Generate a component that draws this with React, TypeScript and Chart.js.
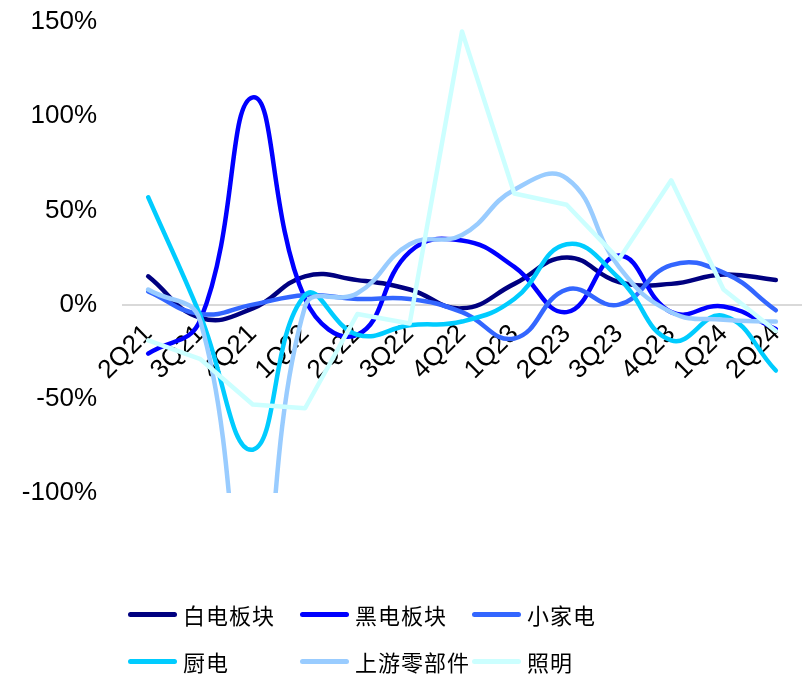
import React, { useEffect, useRef } from "react";
import { Chart, registerables } from "chart.js";

Chart.register(...registerables);

const categories = ["2Q21", "3Q21", "4Q21", "1Q22", "2Q22", "3Q22", "4Q22", "1Q23", "2Q23", "3Q23", "4Q23", "1Q24", "2Q24"];
const seriesNames = ["白电板块", "黑电板块", "小家电", "厨电", "上游零部件", "照明"];
const seriesColors = ["#000080", "#0000FF", "#3366FF", "#00CCFF", "#99CCFF", "#CCFFFF"];
const baiDian = [15, -7, -2, 15, 13, 8, -2, 11, 25, 12, 11, 16, 13];
const heiDian = [-26, -8, 110, 3, -16, 28, 34, 20, -4, 26, -4, -1, -13];
const xiaoJiaDian = [7, -5, 0, 5, 3, 3, -4, -18, 8, 0, 21, 17, -3];
const chuDian = [57, -6, -77, 5, -16, -11, -9, 3, 32, 14, -19, -6, -35];
const shangYou = [8, -9, -185, -1, 6, 32, 37, 61, 67, 20, -4, -8, -9];
const zhaoMing = [-19, -29, -53, -55, -5, -10, 145, 59, 53, 24, 66, 8, -14];
const seriesData = [baiDian, heiDian, xiaoJiaDian, chuDian, shangYou, zhaoMing];
const smoothFlags = [true, true, true, true, true, false];
const yMin = -100;
const yMax = 150;
const yStep = 50;

export default function App() {
  const canvasRef = useRef<HTMLCanvasElement | null>(null);

  useEffect(() => {
    const canvas = canvasRef.current;
    if (!canvas) return;
    const chart = new Chart(canvas, {
      type: "line",
      data: {
        labels: categories,
        datasets: seriesData.map((d, i) => ({
          label: seriesNames[i],
          data: d,
          borderColor: seriesColors[i],
          backgroundColor: seriesColors[i],
          borderWidth: 4.5,
          pointRadius: 0,
          tension: smoothFlags[i] ? 0.45 : 0,
          fill: false,
          order: seriesData.length - i,
          borderCapStyle: "round",
          borderJoinStyle: "round",
        })),
      },
      options: {
        animation: false,
        responsive: false,
        maintainAspectRatio: false,
        layout: { padding: { top: 22, bottom: 183, left: 0, right: 8 } },
        plugins: {
          legend: { display: false },
          tooltip: { enabled: false },
        },
        scales: {
          x: {
            position: { y: 0 },
            offset: true,
            grid: { display: false, drawTicks: false },
            border: { display: false },
            afterFit: (scale: any) => {
              scale.paddingLeft = 0;
              scale.paddingRight = 0;
              scale.paddingTop = 0;
              scale.paddingBottom = 0;
            },
            ticks: {
              autoSkip: false,
              minRotation: 45,
              maxRotation: 45,
              padding: 14,
              color: "#000",
              font: { family: "'Liberation Sans', Arial, sans-serif", size: 26 },
            },
          },
          y: {
            min: yMin,
            max: yMax,
            afterFit: (scale: any) => {
              scale.width = 122;
              scale.paddingTop = 0;
              scale.paddingBottom = 0;
            },
            grid: {
              drawTicks: false,
              color: (ctx: any) => (ctx.tick && ctx.tick.value === 0 ? "#d9d9d9" : "rgba(0,0,0,0)"),
              lineWidth: 2,
            },
            border: { display: false },
            ticks: {
              stepSize: yStep,
              padding: 25,
              color: "#000",
              font: { family: "'Liberation Sans', Arial, sans-serif", size: 26 },
              callback: (v: any) => `${v}%`,
            },
          },
        },
      },
    });
    return () => chart.destroy();
  }, []);

  const rows = [seriesNames.slice(0, 3), seriesNames.slice(3, 6)];

  return (
    <div style={{ position: "absolute", left: 0, top: 0, width: 810, height: 676, background: "#fff" }}>
      <canvas ref={canvasRef} width={810} height={676} style={{ position: "absolute", left: 0, top: 0, width: 810, height: 676 }} />
      {rows.map((row, r) => (
        <div key={r} style={{ position: "absolute", left: 128, top: r === 0 ? 599 : 646, height: 30, display: "flex" }}>
          {row.map((name, c) => {
            const idx = r * 3 + c;
            return (
              <div key={name} style={{ width: 172, display: "flex", alignItems: "center", height: 30 }}>
                <span style={{ display: "inline-block", width: 49, height: 5, borderRadius: 3, background: seriesColors[idx], marginRight: 6 }} />
                <span style={{ fontFamily: "'Noto Sans CJK SC', sans-serif", fontSize: 22, color: "#000", lineHeight: "30px", letterSpacing: 1 }}>{name}</span>
              </div>
            );
          })}
        </div>
      ))}
    </div>
  );
}
